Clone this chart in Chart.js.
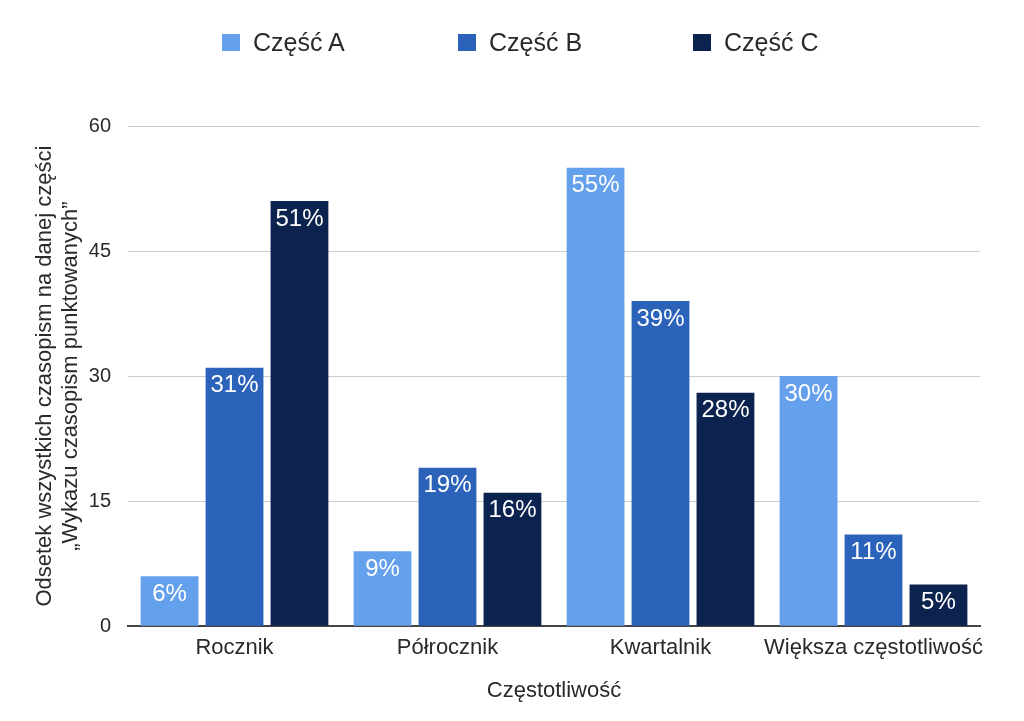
<!DOCTYPE html>
<html lang="pl">
<head>
<meta charset="utf-8">
<script src="https://cdn.jsdelivr.net/npm/chart.js@4"></script>
<style>
  html, body { margin: 0; padding: 0; background: #fff; }
  #wrap { position: relative; width: 1024px; height: 721px; }
  #legend {
    position: absolute; top: 27px; left: 0; width: 1024px; height: 30px;
    font-family: "Liberation Sans", Arial, sans-serif; font-size: 25px; color: #2a2a2a;
  }
  .legend-item { position: absolute; top: 0; display: flex; align-items: center; height: 30px; }
  .legend-swatch { width: 18px; height: 17px; margin-right: 13px; display: inline-block; }
</style>
</head>
<body>
<div id="wrap">
  <canvas id="chart" width="1024" height="721"></canvas>
  <div id="legend"></div>
</div>
<script>
const CATEGORIES = ["Rocznik", "Półrocznik", "Kwartalnik", "Większa częstotliwość"];
const SERIES_NAMES = ["Część A", "Część B", "Część C"];
const PART_A = [6, 9, 55, 30];
const PART_B = [31, 19, 39, 11];
const PART_C = [51, 16, 28, 5];
const Y_TICKS = [0, 15, 30, 45, 60];

const COLORS = ["#64a0ec", "#2b63ba", "#0d234f"];
const FONT = "'Liberation Sans', Arial, sans-serif";
const TEXT = "#2a2a2a";
const LEGEND_X = [222, 458, 693];

// value labels drawn just inside the top of each bar
const barLabels = {
  id: "barLabels",
  afterDatasetsDraw(chart) {
    const ctx = chart.ctx;
    ctx.save();
    ctx.font = "24px " + FONT;
    ctx.fillStyle = "#ffffff";
    ctx.textAlign = "center";
    ctx.textBaseline = "top";
    chart.data.datasets.forEach((ds, i) => {
      chart.getDatasetMeta(i).data.forEach((bar, j) => {
        ctx.fillText(ds.data[j] + "%", bar.x, bar.y + 6);
      });
    });
    ctx.restore();
  }
};

function buildLegend() {
  const legendEl = document.getElementById("legend");
  SERIES_NAMES.forEach((name, i) => {
    const item = document.createElement("div");
    item.className = "legend-item";
    item.style.left = LEGEND_X[i] + "px";
    const swatch = document.createElement("span");
    swatch.className = "legend-swatch";
    swatch.style.background = COLORS[i];
    const label = document.createElement("span");
    label.textContent = name;
    item.appendChild(swatch);
    item.appendChild(label);
    legendEl.appendChild(item);
  });
}

const values = [PART_A, PART_B, PART_C];

new Chart(document.getElementById("chart"), {
  type: "bar",
  data: {
    labels: CATEGORIES,
    datasets: SERIES_NAMES.map((name, i) => ({
      label: name,
      data: values[i],
      backgroundColor: COLORS[i],
      borderWidth: 0,
      categoryPercentage: 0.915,
      barPercentage: 0.89,
    })),
  },
  options: {
    animation: false,
    responsive: false,
    devicePixelRatio: 1,
    layout: { padding: { top: 126, right: 44, left: 32, bottom: 17 } },
    plugins: {
      legend: { display: false },
      tooltip: { enabled: false },
    },
    scales: {
      x: {
        grid: { display: false, drawTicks: false },
        border: { color: "#444", width: 2 },
        ticks: { color: TEXT, font: { family: FONT, size: 22 }, padding: 9, maxRotation: 0, autoSkip: false },
        title: {
          display: true,
          text: "Częstotliwość",
          color: TEXT,
          font: { family: FONT, size: 22 },
          padding: { top: 7, bottom: 0 },
        },
      },
      y: {
        min: 0,
        max: 60,
        afterBuildTicks(axis) { axis.ticks = Y_TICKS.map(v => ({ value: v })); },
        afterFit(axis) { axis.width = 96; },
        grid: { color: "#cccccc", drawTicks: false },
        border: { display: false },
        ticks: { color: TEXT, font: { family: FONT, size: 20 }, padding: 17 },
        title: {
          display: true,
          text: ["Odsetek wszystkich czasopism na danej części", "„Wykazu czasopism punktowanych”"],
          color: TEXT,
          font: { family: FONT, size: 22, lineHeight: "26px" },
          padding: { top: 0, bottom: 0 },
        },
      },
    },
  },
  plugins: [barLabels],
});

buildLegend();
</script>
</body>
</html>
